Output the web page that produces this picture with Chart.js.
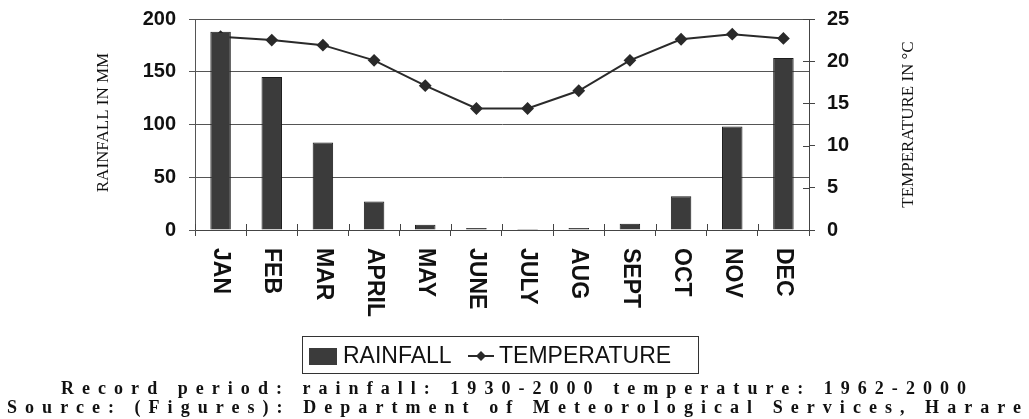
<!DOCTYPE html>
<html>
<head>
<meta charset="utf-8">
<script src="https://cdn.jsdelivr.net/npm/chart.js@4/dist/chart.umd.min.js"></script>
<style>
	html, body { margin: 0; padding: 0; background: #fff; }
</style>
</head>
<body>
<canvas id="myChart" width="1029" height="419"></canvas>
<script>
const months = ['JAN', 'FEB', 'MAR', 'APRIL', 'MAY', 'JUNE', 'JULY', 'AUG', 'SEPT', 'OCT', 'NOV', 'DEC'];
const rainfall = [188, 145, 83, 27, 5, 2, 1, 2, 6, 32, 98, 163];
const temperature = [22.9, 22.5, 21.9, 20.1, 17.1, 14.4, 14.4, 16.5, 20.1, 22.6, 23.2, 22.7];
const rainTitle = 'RAINFALL IN MM';
const tempTitle = 'TEMPERATURE IN °C';
const footer1 = 'Record period: rainfall: 1930-2000 temperature: 1962-2000';
const footer2 = 'Source: (Figures): Department of Meteorological Services, Harare';

const barColor = '#3b3b3b';
const lineColor = '#2a2a2a';
const gridColor = '#555';

function drawSpaced(ctx, text, x0, x1, y) {
	ctx.letterSpacing = '0px';
	let w = ctx.measureText(text).width;
	let sp = (x1 - x0 - w) / (text.length - 1);
	ctx.letterSpacing = sp + 'px';
	ctx.textAlign = 'left';
	ctx.fillText(text, x0, y);
	ctx.letterSpacing = '0px';
}

const extras = {
	id: 'extras',
	afterDraw(chart) {
		let ctx = chart.ctx;
		let a = chart.chartArea;
		let xs = chart.scales.x;
		let y1 = chart.scales.y1;
		ctx.save();

		// ticks that cross into the plot
		ctx.strokeStyle = '#444';
		ctx.lineWidth = 1;
		ctx.beginPath();
		y1.ticks.forEach((t, i) => {
			let py = Math.round(y1.getPixelForTick(i)) + 0.5;
			ctx.moveTo(a.right - 6, py);
			ctx.lineTo(a.right, py);
		});
		for (let i = 0; i <= months.length; i++) {
			let px = Math.round(xs.getPixelForValue(i - 0.5)) + 0.5;
			ctx.moveTo(px, a.bottom - 6);
			ctx.lineTo(px, a.bottom);
		}
		ctx.stroke();

		// month labels, reading top to bottom
		ctx.fillStyle = '#111';
		ctx.font = 'bold 23px "Liberation Sans", Arial, sans-serif';
		ctx.textBaseline = 'middle';
		ctx.textAlign = 'left';
		months.forEach((m, i) => {
			ctx.save();
			ctx.translate(xs.getPixelForValue(i), a.bottom + 18);
			ctx.rotate(Math.PI / 2);
			ctx.fillText(m, 0, 0);
			ctx.restore();
		});

		// axis titles
		ctx.font = '17px "Liberation Serif", "Times New Roman", serif';
		ctx.textAlign = 'center';
		let cy = (a.top + a.bottom) / 2;
		ctx.save();
		ctx.translate(104, cy - 2);
		ctx.rotate(-Math.PI / 2);
		ctx.fillText(rainTitle, 0, 0);
		ctx.restore();
		ctx.save();
		ctx.translate(909, cy);
		ctx.rotate(-Math.PI / 2);
		ctx.fillText(tempTitle, 0, 0);
		ctx.restore();

		// legend
		let bx = 302, by = 336, bw = 396, bh = 37;
		ctx.strokeStyle = '#333';
		ctx.lineWidth = 1;
		ctx.strokeRect(bx + 0.5, by + 0.5, bw, bh);
		ctx.fillStyle = barColor;
		ctx.fillRect(309, 348, 28, 17);
		ctx.font = '23px "Liberation Sans", Arial, sans-serif';
		ctx.fillStyle = '#111';
		ctx.textAlign = 'left';
		ctx.fillText(chart.data.datasets[0].label, 343, 357);
		ctx.strokeStyle = lineColor;
		ctx.lineWidth = 2;
		ctx.beginPath();
		ctx.moveTo(468, 356);
		ctx.lineTo(494, 356);
		ctx.stroke();
		ctx.fillStyle = lineColor;
		ctx.beginPath();
		ctx.moveTo(481, 351); ctx.lineTo(486, 356); ctx.lineTo(481, 361); ctx.lineTo(476, 356);
		ctx.closePath();
		ctx.fill();
		ctx.fillStyle = '#111';
		ctx.fillText(chart.data.datasets[1].label, 499, 357);

		// footer
		ctx.font = 'bold 18px "Liberation Serif", "Times New Roman", serif';
		ctx.fillStyle = '#111';
		drawSpaced(ctx, footer1, 61, 966, 389);
		drawSpaced(ctx, footer2, 7, 1021, 408);

		ctx.restore();
	}
};

function createComboChart(elID) {
	let ctx = document.getElementById(elID).getContext('2d');
	return new Chart(ctx, {
		data: {
			labels: months,
			datasets: [
				{
					type: 'bar',
					label: 'RAINFALL',
					data: rainfall,
					yAxisID: 'y',
					backgroundColor: barColor,
					borderColor: '#1c1c1c',
					borderWidth: 1,
					barPercentage: 0.4,
					categoryPercentage: 1,
					order: 1
				},
				{
					type: 'line',
					label: 'TEMPERATURE',
					data: temperature,
					yAxisID: 'y1',
					borderColor: lineColor,
					backgroundColor: lineColor,
					borderWidth: 2,
					pointStyle: 'rectRot',
					pointRadius: 5,
					pointBackgroundColor: lineColor,
					fill: false,
					lineTension: 0,
					order: 2
				}
			]
		},
		options: {
			responsive: false,
			animation: false,
			devicePixelRatio: 1,
			layout: { padding: { top: 19, left: 0, right: 0, bottom: 0 } },
			plugins: {
				legend: { display: false },
				tooltip: { enabled: false }
			},
			scales: {
				x: {
					offset: true,
					grid: { drawOnChartArea: false, tickLength: 6, color: '#444', offset: true },
					border: { color: '#444' },
					ticks: { display: false },
					afterFit: (s) => { s.height = 189; }
				},
				y: {
					position: 'left',
					min: 0,
					max: 200,
					ticks: { stepSize: 50, color: '#111', font: { family: '"Liberation Sans", Arial, sans-serif', size: 20, weight: 'bold' }, padding: 13 },
					grid: { color: gridColor, tickLength: 6 },
					border: { color: gridColor },
					afterFit: (s) => { s.width = 195; s.paddingTop = 0; s.paddingBottom = 0; }
				},
				y1: {
					position: 'right',
					min: 0,
					max: 25,
					ticks: { stepSize: 5, color: '#111', font: { family: '"Liberation Sans", Arial, sans-serif', size: 20, weight: 'bold' }, padding: 12 },
					grid: { drawOnChartArea: false, tickLength: 6, color: '#444' },
					border: { color: '#444' },
					afterFit: (s) => { s.width = 220; s.paddingTop = 0; s.paddingBottom = 0; }
				}
			}
		},
		plugins: [extras]
	});
}

createComboChart('myChart');
</script>
</body>
</html>
